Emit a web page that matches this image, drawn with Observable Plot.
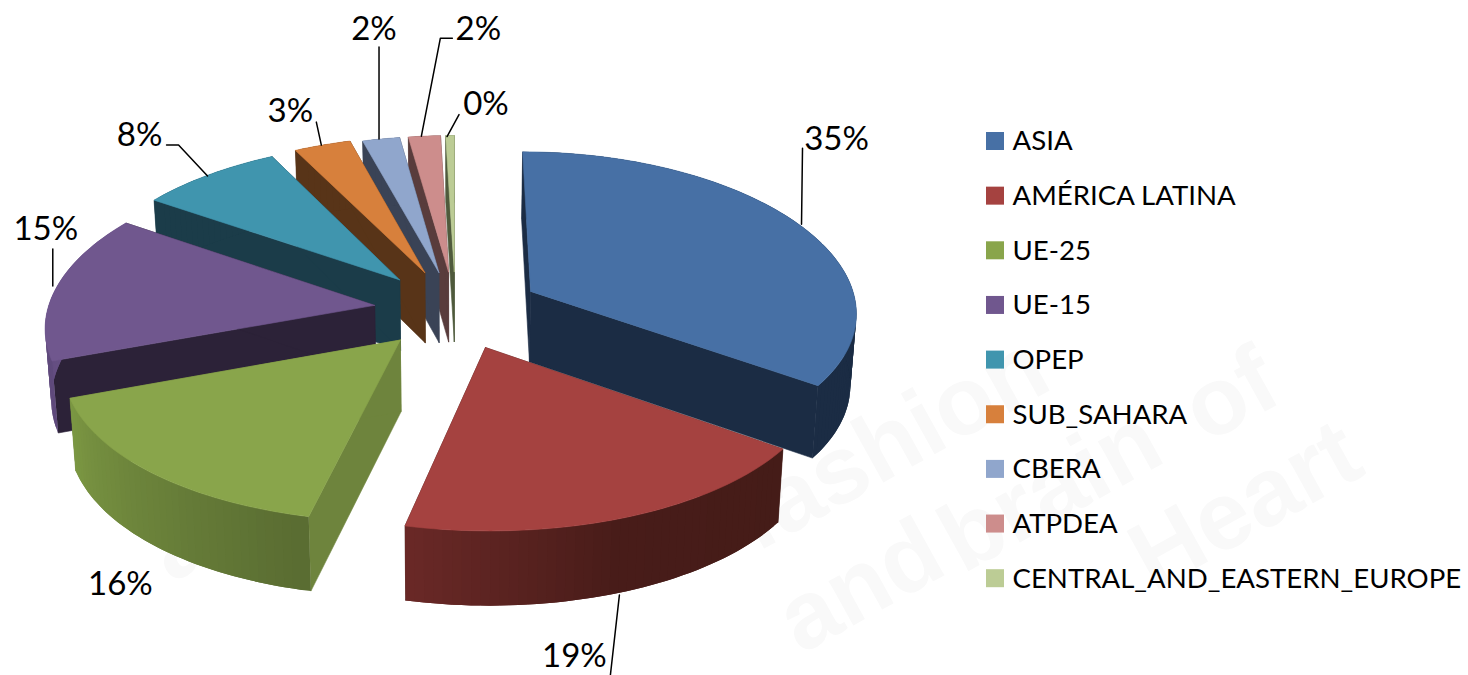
<!DOCTYPE html>
<html><head><meta charset="utf-8">
<script src="https://cdn.jsdelivr.net/npm/d3@7"></script>
<script src="https://cdn.jsdelivr.net/npm/@observablehq/plot@0.6"></script>
<style>html,body{margin:0;padding:0;background:#fff;overflow:hidden}svg{display:block}</style>
</head><body><div id="chart"></div>
<script>
// ---- data ----
const regions = ["ASIA","AMÉRICA LATINA","UE-25","UE-15","OPEP","SUB_SAHARA","CBERA","ATPDEA","CENTRAL_AND_EASTERN_EUROPE"];
const shares = [34.85,18.7,15.85,15.0,8.0,3.2,2.1,1.81,0.49];
const percentLabels = ["35%","19%","16%","15%","8%","3%","2%","2%","0%"];
// ---- styles ----
const topColors  = ["#4770a5","#a54240","#89a54b","#70578e","#4095ae","#d7803c","#90a6cc","#cd8d8c","#bccc95"];
const cutColors  = ["#1b2c44","#451c18","#6e843d","#2c2238","#1b3c49","#583418","#3a4356","#593c3c","#4f5a3c"];
const wallStops  = [["#1b2c44","#1b2c44"],["#451c18","#481c19","#6b2927"],["#5a6d32","#7c9843"],["#5f4a7c","#6f568c"],["#1b3c49","#1b3c49"],["#583418","#583418"],["#3a4356","#3a4356"],["#593c3c","#593c3c"],["#4f5a3c","#4f5a3c"]];
const explodeBy  = [0.262,0.25,0.25,0.25,0.262,0.262,0.25,0.25,0.25];
const paintOrder = [8,7,6,5,4,3,2,0,1];
// ---- label layout, as pixel offsets from each slice's rim point ----
const labelOffset = [[38,-85],[-48,64],[-31,112],[-11,-58],[-69,-39],[-32,-34],[-7,-110],[54,-107],[36,-31]];
const leaderOffset = [
  [[3,0],[4,-76]],
  [[-3,3],[-12,83]],
  [],
  [[-4,-1],[-4,-38]],
  [[-1,1],[-30,-30],[-42,-30]],
  [[-1,0],[-6,-23]],
  [[-2,0],[-2,-92]],
  [[-3,0],[16,-98],[28,-98]],
  [[-3,1],[9,-21]]
];
// ---- faint background watermark ----
const watermarkWords = ["and","brain","of","fashion","Heart","and"];
const watermarkX = [860,1050,1230,890,1245,230];
const watermarkY = [586,490,395,443,505,515];
// ---- 3D projection of the pie plane ----
const W = 1468, H = 675;
const cx = 455, cy = 309.5, rx = 327, ry = 157, kx = 0.12, ky = 0.1;
const project = (u, v, low = false) => {
  const x = rx * u / (1 - kx * v), y = ry * v / (1 - ky * v);
  return low ? [cx + x * 0.985, cy + y + 71 + 3 * v] : [cx + x, cy + y];
};
const total = d3.sum(shares);
let acc = 0;
const slices = shares.map((s, i) => {
  const a0 = acc / total * 2 * Math.PI; acc += s;
  const a1 = acc / total * 2 * Math.PI, m = (a0 + a1) / 2;
  const ou = explodeBy[i] * Math.sin(m), ov = -explodeBy[i] * Math.cos(m);
  const n = Math.max(3, Math.ceil((a1 - a0) / 0.025));
  const rim = d3.range(n + 1).map(j => {
    const a = a0 + (a1 - a0) * j / n;
    return [ou + Math.sin(a), ov - Math.cos(a)];
  });
  return {i, m, ou, ov, rim, anchor: [ou + Math.sin(m), ov - Math.cos(m)]};
});
// polygons, painted back to front; wall strips overlap the next one so no seam shows
const pts = [];
let pid = 0;
const poly = (coords, c, s = c) => { const id = pid++; [...coords, coords[0]].forEach(p => pts.push({x: p[0], y: p[1], id, c, s})); };
for (const i of paintOrder) {
  const s = slices[i], A = [s.ou, s.ov], R = s.rim;
  const first = R[0], last = R[R.length - 1];
  poly([project(...A), project(...first), project(...first, true), project(...A, true)], cutColors[i]);
  poly([project(...A), project(...last), project(...last, true), project(...A, true)], cutColors[i]);
  const col = d3.piecewise(d3.interpolateRgb, wallStops[i]);
  for (let j = R.length - 2; j >= 0; j--) {
    const p = R[j], q = R[Math.min(j + 2, R.length - 1)];
    const c = d3.color(col(j / Math.max(1, R.length - 2))).formatHex();
    const arc = R.slice(j, Math.min(j + 3, R.length));
    poly([...arc.map(a => project(...a)), project(...q, true), ...arc.slice(0, -1).reverse().map(a => project(...a, true))], c, "none");
  }
  poly([project(...A), ...R.map(p => project(...p))], topColors[i]);
}
// labels + leaders
const labels = slices.map(s => {
  const a = project(...s.anchor, s.i === 1);
  return {x: a[0] + labelOffset[s.i][0], y: a[1] + labelOffset[s.i][1], text: percentLabels[s.i]};
});
const leaders = slices.flatMap(s => {
  const a = project(...s.anchor, s.i === 1);
  return leaderOffset[s.i].map(o => ({x: a[0] + o[0], y: a[1] + o[1], id: s.i}));
});
const legend = regions.map((name, i) => ({name, i, c: topColors[i]}));
const legendY = i => 141 + i * 54.65;
const watermark = watermarkWords.map((t, i) => ({t, x: watermarkX[i], y: watermarkY[i]}));
const font = "Lato, 'Open Sans', sans-serif";
const chart = Plot.plot({
  width: W, height: H, margin: 0,
  style: {background: "#fff"},
  x: {domain: [0, W], range: [0, W], axis: null},
  y: {domain: [0, H], range: [0, H], axis: null},
  color: {type: "identity"},
  marks: [
    Plot.text(watermark, {x:"x", y:"y", text:"t", rotate:-29, fontSize:96, fontWeight:"bold", fill:"#f9f9f9", fontFamily:"'Liberation Sans',sans-serif"}),
    Plot.line(pts, {x:"x", y:"y", z:"id", fill:"c", stroke:"s", strokeWidth:0.6, strokeLinejoin:"round"}),
    Plot.line(leaders, {x:"x", y:"y", z:"id", stroke:"#000", strokeWidth:1.5}),
    Plot.text(labels, {x:"x", y:"y", text:"text", fontSize:33, fill:"#000", fontFamily:font, lineAnchor:"middle"}),
    Plot.rect(legend, {x1:()=>986, x2:()=>1004, y1:d=>legendY(d.i)-9, y2:d=>legendY(d.i)+9, fill:"c"}),
    Plot.text(legend, {x:()=>1012, y:d=>legendY(d.i), text:"name", textAnchor:"start", lineAnchor:"middle", fontSize:27.6, fill:"#000", fontFamily:font})
  ]
});
document.getElementById("chart").append(chart);
</script></body></html>
